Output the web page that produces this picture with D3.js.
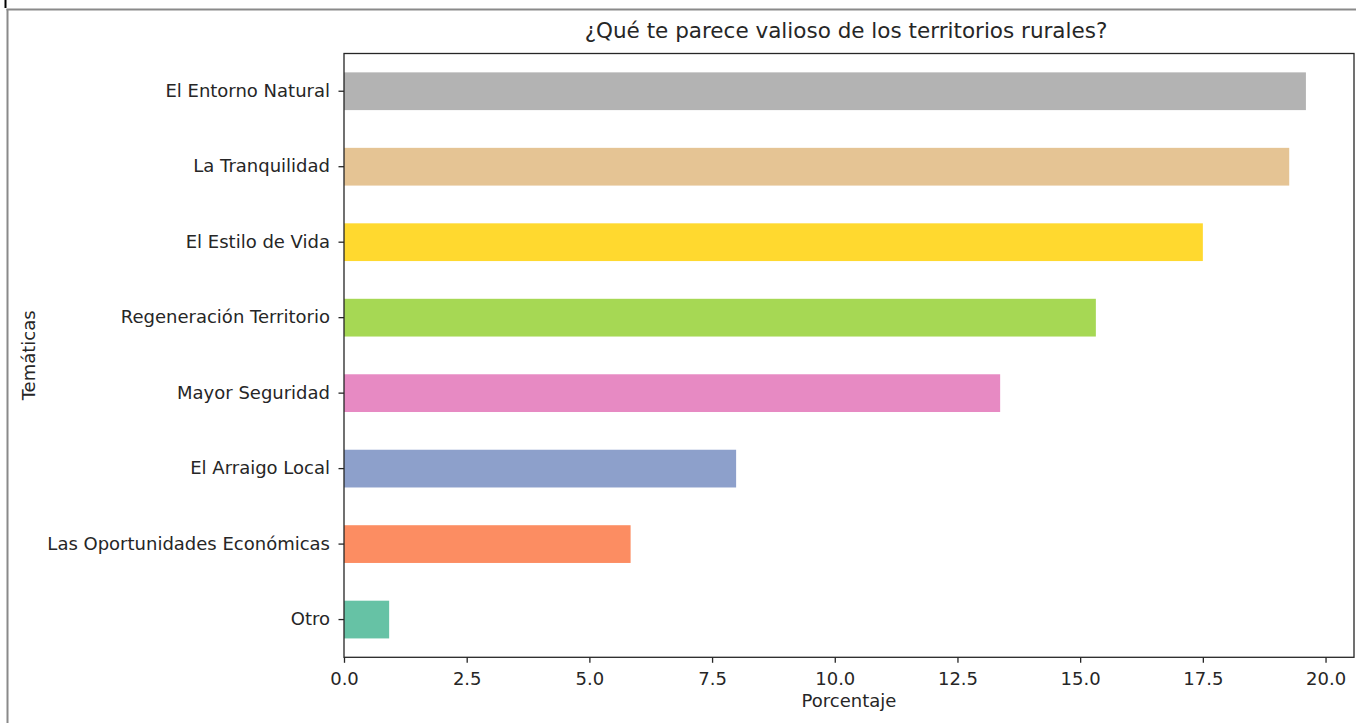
<!DOCTYPE html>
<html>
<head>
<meta charset="utf-8">
<script src="https://cdn.jsdelivr.net/npm/d3@7"></script>
<style>
  html, body { margin: 0; padding: 0; background: #fff; }
  svg { display: block; }
  text { font-family: "DejaVu Sans", sans-serif; fill: #262626; }
</style>
</head>
<body>
<svg id="chart" width="1356" height="723"></svg>
<script>
const categories = ["El Entorno Natural", "La Tranquilidad", "El Estilo de Vida", "Regeneración Territorio", "Mayor Seguridad", "El Arraigo Local", "Las Oportunidades Económicas", "Otro"];
const values = [19.6, 19.26, 17.5, 15.32, 13.37, 7.99, 5.84, 0.92];
const colors = ["#b3b3b3", "#e5c494", "#ffd92f", "#a6d854", "#e78ac3", "#8da0cb", "#fc8d62", "#66c2a5"];
const xTicks = [0, 2.5, 5, 7.5, 10, 12.5, 15, 17.5, 20];
const title = "¿Qué te parece valioso de los territorios rurales?";
const xLabel = "Porcentaje";
const yLabel = "Temáticas";

const svg = d3.select("#chart");

// outer frame of the screenshot
svg.append("line").attr("x1", 5.5).attr("x2", 5.5).attr("y1", 0).attr("y2", 8).attr("stroke", "#000").attr("stroke-width", 2);
svg.append("line").attr("x1", 6.5).attr("x2", 1356).attr("y1", 9.5).attr("y2", 9.5).attr("stroke", "#8a8a8a").attr("stroke-width", 2);
svg.append("line").attr("x1", 7.5).attr("x2", 7.5).attr("y1", 9).attr("y2", 723).attr("stroke", "#8a8a8a").attr("stroke-width", 2);

const mLeft = 344, mRight = 1354, mTop = 53.5, mBottom = 657.3;
const xMax = Math.max(...values) * 1.05;
const x = d3.scaleLinear().domain([0, xMax]).range([mLeft, mRight]);
const y = d3.scaleBand().domain(categories).range([mTop, mBottom]).paddingInner(0.5).paddingOuter(0.25);

svg.append("g").selectAll("rect").data(categories).join("rect")
  .attr("x", x(0))
  .attr("y", d => y(d))
  .attr("width", (d, i) => x(values[i]) - x(0))
  .attr("height", y.bandwidth())
  .attr("fill", (d, i) => colors[i]);

// axes
const xAxis = svg.append("g").attr("transform", `translate(0,${mBottom})`)
  .call(d3.axisBottom(x).tickValues(xTicks).tickFormat(d3.format(".1f")).tickSize(5.5).tickPadding(9));
const yAxis = svg.append("g").attr("transform", `translate(${mLeft},0)`)
  .call(d3.axisLeft(y).tickSize(5.5).tickPadding(8.5));
[xAxis, yAxis].forEach(g => {
  g.select(".domain").remove();
  g.selectAll("line").attr("stroke", "#262626").attr("stroke-width", 1.3);
  g.selectAll("text").style("font-size", "18px").attr("fill", "#262626");
});

// spines
svg.append("rect").attr("x", mLeft).attr("y", mTop).attr("width", mRight - mLeft).attr("height", mBottom - mTop)
  .attr("fill", "none").attr("stroke", "#262626").attr("stroke-width", 1.3);

svg.append("text").attr("x", (mLeft + mRight) / 2 - 3).attr("y", 38).attr("text-anchor", "middle")
  .style("font-size", "21.5px").text(title);
svg.append("text").attr("x", (mLeft + mRight) / 2).attr("y", 707).attr("text-anchor", "middle")
  .style("font-size", "18px").text(xLabel);
svg.append("text").attr("transform", `translate(35,${(mTop + mBottom) / 2}) rotate(-90)`).attr("text-anchor", "middle")
  .style("font-size", "18px").text(yLabel);
</script>
</body>
</html>
